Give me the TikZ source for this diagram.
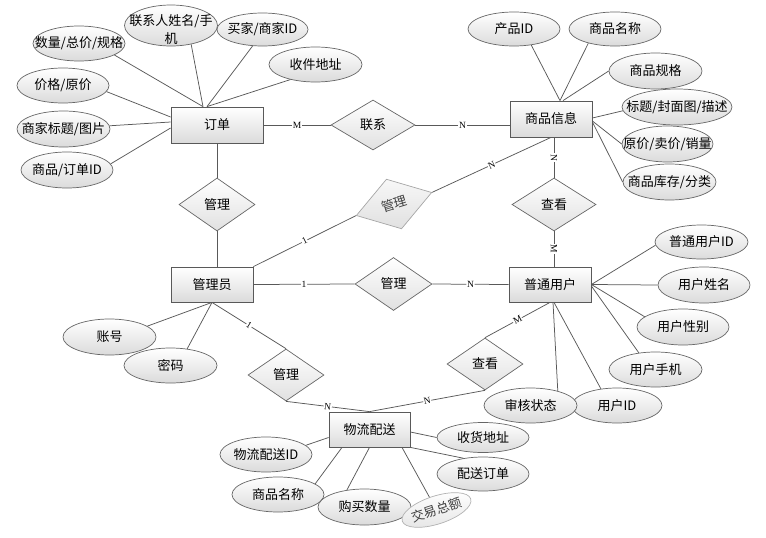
\documentclass[tikz,border=0pt]{standalone}
\usepackage{fontspec}
\setmainfont{Liberation Serif}
\newfontfamily\cjk{Noto Sans CJK SC}
\usetikzlibrary{shapes.geometric,shadows,calc}
\newcommand\zt[1]{\makebox[0pt]{#1}}
\begin{document}
\begin{tikzpicture}[x=1pt,y=-1pt,
  every node/.style={font=\cjk\fontsize{13}{15}\selectfont, text=black},
  ent/.style={rectangle, draw=black!65, line width=0.8pt, top color=white, bottom color=black!14, minimum width=82pt, minimum height=35pt, inner sep=0pt, drop shadow={shadow xshift=1.2pt, shadow yshift=-1.2pt, opacity=0.3}},
  rel/.style={diamond, draw=black!60, line width=0.7pt, top color=white, bottom color=black!12, inner sep=0pt, aspect=1.5},
  att/.style={ellipse, draw=black!60, line width=0.7pt, top color=white, bottom color=black!14, inner sep=0pt, minimum width=92pt, minimum height=35pt},
  ln/.style={draw=black!65, line width=0.75pt},
  card/.style={font=\fontsize{9.5}{10}\selectfont, fill=white, inner sep=0.6pt, sloped, pos=0.5},
]
\useasboundingbox (0,0) rectangle (766,538);

% entities
\node[ent, minimum width=92pt, minimum height=36pt] (order) at (217,125) {订单};
\node[ent, minimum height=36pt] (goods) at (551,119) {商品信息};
\node[ent] (admin) at (212,284.5) {管理员};
\node[ent] (user) at (550,284.5) {普通用户};
\node[ent, minimum width=81pt] (logi) at (369.5,429.5) {物流配送};

% relations
\node[rel, minimum width=84pt, minimum height=50pt] (r1) at (373,125) {联系};
\node[rel, minimum width=76pt, minimum height=53pt] (m1) at (217,204.5) {管理};
\node[rel, minimum width=79pt, minimum height=52pt, rotate=17, draw=black!35, top color=black!3, bottom color=black!12, text=black!75] (m2) at (394,204) {管理};
\node[rel, minimum width=84pt, minimum height=53pt] (v1) at (554,204.5) {查看};
\node[rel, minimum width=77pt, minimum height=53pt] (m3) at (393.5,284) {管理};
\node[rel, minimum width=76pt, minimum height=52pt] (v2) at (485,364) {查看};
\node[rel, minimum width=76pt, minimum height=52pt] (m4) at (286,375) {管理};

% order attributes
\node[att] (a1) at (79,43.5) {\zt{数量/总价/规格}};
\node[att, minimum width=93pt, minimum height=41pt,
  label={[align=center, inner sep=0pt, yshift=-4.5pt, font=\cjk\fontsize{13}{18}\selectfont]center:联系人姓名/手\\机}] (a2) at (171,25.5) {};
\node[att, minimum width=91pt, minimum height=33pt] (a3) at (262.5,29.5) {\zt{买家/商家ID}};
\node[att, minimum width=93pt] (a4) at (315.5,64.5) {\zt{收件地址}};
\node[att] (a5) at (63,85.5) {\zt{价格/原价}};
\node[att, minimum width=93pt, minimum height=36pt] (a6) at (63.5,129) {\zt{商家标题/图片}};
\node[att, minimum height=36pt] (a7) at (67,170) {\zt{商品/订单ID}};

% goods attributes
\node[att, minimum height=34pt] (b1) at (514,29) {\zt{产品ID}};
\node[att, minimum height=34pt] (b2) at (615,29) {\zt{商品名称}};
\node[att, minimum width=93pt, minimum height=36pt] (b3) at (655.5,71) {\zt{商品规格}};
\node[att, minimum width=110pt, minimum height=36pt] (b4) at (677,107) {\zt{标题/封面图/描述}};
\node[att, minimum width=91pt, minimum height=36pt] (b5) at (667.5,144) {\zt{原价/卖价/销量}};
\node[att, minimum width=93pt, minimum height=36pt] (b6) at (669.5,182) {\zt{商品库存/分类}};

% user attributes
\node[att, minimum width=93pt, minimum height=34pt] (c1) at (701.5,242) {\zt{普通用户ID}};
\node[att, minimum height=36pt] (c2) at (704,285) {\zt{用户姓名}};
\node[att, minimum height=36pt] (c3) at (683,327) {\zt{用户性别}};
\node[att, minimum width=93pt] (c4) at (655.5,369.5) {\zt{用户手机}};
\node[att, minimum width=90pt] (c5) at (617,405.5) {\zt{用户ID}};
\node[att, minimum width=93pt] (c6) at (530.5,405.5) {\zt{审核状态}};

% logistics attributes
\node[att, minimum height=30pt] (d1) at (483,437.5) {\zt{收货地址}};
\node[att, minimum height=34pt] (d2) at (483,474) {\zt{配送订单}};
\node[att] (d3) at (266,454.5) {\zt{物流配送ID}};
\node[att] (d4) at (278,494.5) {\zt{商品名称}};
\node[att, minimum width=93pt, minimum height=36pt] (d5) at (364.5,507) {\zt{购买数量}};
\node[att, minimum width=72pt, minimum height=28pt, rotate=18, draw=black!30, top color=white, bottom color=black!10, text=black!75] (d6) at (436.5,510) {\zt{交易总额}};

% admin attributes
\node[att, minimum width=93pt, minimum height=36pt] (e1) at (109.5,337) {\zt{账号}};
\node[att, minimum width=93pt] (e2) at (170.5,365.5) {\zt{密码}};

% relationship connectors
\draw[ln] (order.east) -- node[card]{M} (r1.west);
\draw[ln] (r1.east) -- node[card]{N} (r1.east -| goods.west);
\draw[ln] (order.south) -- (m1.north);
\draw[ln] (m1.south) -- (m1.south |- admin.north);
\draw[ln] (admin.north east) -- node[card]{1} (m2.west);
\draw[ln] (m2.east) -- node[card]{N} (goods.south);
\draw[ln] (v1.north |- goods.south) -- node[card]{N} (v1.north);
\draw[ln] (v1.south) -- node[card]{M} (v1.south |- user.north);
\draw[ln] (admin.east) -- node[card]{1} (m3.west);
\draw[ln] (m3.east) -- node[card]{N} (user.west);
\draw[ln] (admin.south) -- node[card]{1} (m4.north);
\draw[ln] (m4.south) -- node[card]{N} (logi.north);
\draw[ln] (v2.south) -- node[card]{N} (logi.north);
\draw[ln] (user.south) -- node[card]{M} (v2.north);

% attribute connectors
\draw[ln] (a1.-18) -- ($(order.north)+(-14,0)$);
\draw[ln] (a2.-43) -- ($(order.north)+(-14,0)$);
\draw[ln] (a3.-121) -- ($(order.north)+(-10,0)$);
\draw[ln] (a4.-149) -- ($(order.north)+(-10,0)$);
\draw[ln] (a5.-8) -- ($(order.west)+(0,-8)$);
\draw[ln] (a6.4) -- ($(order.west)+(0,-3)$);
\draw[ln] (a7.8) -- ($(order.west)+(0,3)$);

\draw[ln] (b1.-43) -- ($(goods.north)+(9,0)$);
\draw[ln] (b2.-152) -- ($(goods.north)+(9,0)$);
\draw[ln] (b3.west) -- ($(goods.north)+(12,0)$);
\draw[ln] (b4.184) -- ($(goods.east)+(0,-1)$);
\draw[ln] (b5.west) -- ($(goods.east)+(0,2)$);
\draw[ln] (b6.west) -- ($(goods.east)+(0,3)$);

\draw[ln] (c1.184) -- (user.east);
\draw[ln] (c2.west) -- (user.east);
\draw[ln] (c3.165) -- (user.east);
\draw[ln] (c4.135) -- ($(user.east)+(0,1.5)$);
\draw[ln] (c5.134) -- ($(user.south)+(4,0)$);
\draw[ln] (c6.28) -- ($(user.south)+(3,0)$);

\draw[ln] (d1.west) -- ($(logi.east)+(0,2.5)$);
\draw[ln] (d2.141) -- (logi.south east);
\draw[ln] (d3.13) -- ($(logi.west)+(0,8)$);
\draw[ln] (d4.16) -- ($(logi.south)+(-27.5,0)$);
\draw[ln] (d5.136) -- (logi.south);
\draw[ln] (d6) -- ($(logi.south)+(32.5,0)$);

\draw[ln] (e1.16) -- (admin.south);
\draw[ln] (e2.45) -- (admin.south);
\end{tikzpicture}
\end{document}
